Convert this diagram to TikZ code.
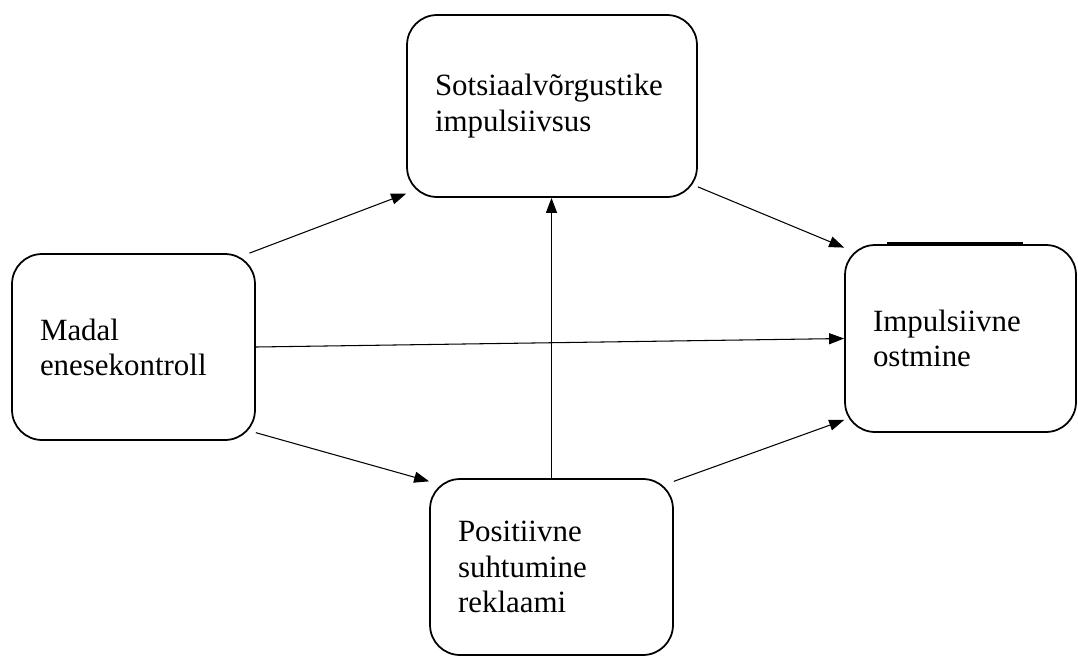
\documentclass[tikz,border=0pt]{standalone}
\usepackage{fontspec}
\setmainfont{Liberation Serif}
\usetikzlibrary{positioning, calc, arrows.meta}

\begin{document}
\begin{tikzpicture}[x=0.02cm, y=-0.02cm,
    every node/.style={font=\fontsize{17.6pt}{20pt}\selectfont},
    box/.style={draw, rounded corners=0.6cm, line width=1pt, inner xsep=0.56cm, inner ysep=0pt, align=left},
    link/.style={-{Triangle[length=0.3cm, width=0.22cm]}, line width=0.6pt}]
        \useasboundingbox (0,0) rectangle (1078,660);

        \node[box, minimum width=4.86cm, minimum height=3.72cm, text width=3.74cm] (M) at (133.5,347) {Madal\\enesekontroll};
        \node[box, minimum width=5.8cm, minimum height=3.64cm, text width=4.68cm] (S) at (552,106) {Sotsiaalvõrgustike\\impulsiivsus};
        \node[box, minimum width=4.62cm, minimum height=3.74cm, text width=3.5cm] (I) at (960.5,338.5) {Impulsiivne\\ostmine};
        \node[box, minimum width=4.86cm, minimum height=3.52cm, text width=3.74cm] (P) at (551.5,567) {Positiivne\\suhtumine\\reklaami};

        % doubled stroke on top of the outcome box
        \draw[line width=1pt] ($(I.north west)+(43,-1.3)$) -- ($(I.north east)+(-54,-1.3)$);

        \draw[link] (M.39) -- (S.211.7);
        \draw[link] (S.-29.9) -- (I.142.3);
        \draw[link] (M.east) -- (I.west);
        \draw[link] (M.-35) -- (P.145.5);
        \draw[link] (P.north) -- (P.north |- S.south);
        \draw[link] (P.35.7) -- (I.215.9);
\end{tikzpicture}
\end{document}
